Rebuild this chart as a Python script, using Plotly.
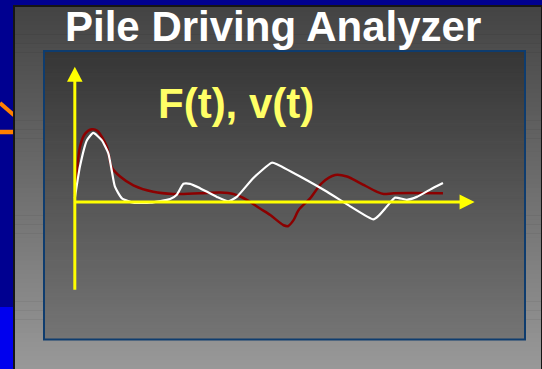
import plotly.graph_objects as go

# ---- data (time in ms, normalised amplitude) ----
force_t = [0.0, 0.05, 0.14, 0.28, 0.46, 0.61, 0.87, 1.00, 1.23, 1.59, 2.13, 2.68, 3.40, 3.95,
           4.31, 4.67, 5.03, 5.31, 5.67, 5.80, 5.94, 6.08, 6.39, 6.71, 7.07, 7.39, 7.75, 8.21,
           8.39, 8.66, 10.0]
force_v = [0.11, 0.39, 0.76, 0.94, 1.00, 0.98, 0.76, 0.48, 0.35, 0.23, 0.14, 0.11, 0.12, 0.13,
           0.11, 0.03, -0.09, -0.18, -0.32, -0.33, -0.25, -0.11, 0.05, 0.26, 0.37, 0.35, 0.26,
           0.14, 0.11, 0.12, 0.12]
vel_t = [0.0, 0.14, 0.33, 0.50, 0.73, 0.91, 1.00, 1.09, 1.28, 1.59, 2.05, 2.59, 2.77, 2.95,
         3.13, 3.40, 3.86, 4.17, 4.40, 4.85, 5.35, 5.49, 6.12, 6.85, 7.48, 8.11, 8.25, 8.48,
         8.70, 9.02, 9.29, 9.65, 10.0]
vel_v = [0.05, 0.49, 0.85, 0.95, 0.85, 0.67, 0.44, 0.21, 0.05, -0.01, -0.01, 0.04, 0.10, 0.25,
         0.25, 0.19, 0.07, 0.01, 0.07, 0.33, 0.54, 0.52, 0.35, 0.14, -0.06, -0.24, -0.19, -0.06,
         0.06, 0.03, 0.07, 0.17, 0.26]
title_text = "Pile Driving Analyzer"
label_text = "F(t), v(t)"

W, H = 542, 369
FONT = "Arial, Liberation Sans, sans-serif"


def px(x):
    return x / W


def py(y):
    return 1 - y / H


shapes = []


def rect(x0, y0, x1, y1, fill, line=None, lw=0, layer="below"):
    shapes.append(dict(type="rect", xref="paper", yref="paper", x0=px(x0), x1=px(x1),
                       y0=py(y1), y1=py(y0), fillcolor=fill, layer=layer,
                       line=dict(width=lw, color=line or "rgba(0,0,0,0)")))


def gradient(x0, y0, x1, y1, c0, c1, n=80):
    h = (y1 - y0) / n
    for i in range(n):
        f = i / (n - 1)
        c = round(c0 + (c1 - c0) * f)
        rect(x0, y0 + i * h, x1, y0 + (i + 1) * h + 0.6, f"rgb({c},{c},{c})")


# slide background
rect(0, 307, 14, 369, "#0000ee")
shapes.append(dict(type="line", xref="paper", yref="paper", x0=px(0), y0=py(103),
                   x1=px(15), y1=py(116), line=dict(color="#ff8000", width=4), layer="below"))
shapes.append(dict(type="line", xref="paper", yref="paper", x0=px(0), y0=py(132),
                   x1=px(15), y1=py(132), line=dict(color="#ff8000", width=4.5), layer="below"))
rect(13, 5, 542, 369, "#151515")
gradient(15, 7, 541, 369, 68, 152)
# inner box
gradient(44, 51, 525, 339.5, 54, 116)
rect(44, 51, 525, 339.5, "rgba(0,0,0,0)", line="#0e3c6e", lw=2)

# axis geometry in data units
X0, X1 = -0.837, 12.228
Y0, Y1 = -1.889, 2.077
yl = "#ffff00"
shapes.append(dict(type="line", xref="x", yref="y", x0=0, y0=-1.206, x1=0, y1=1.70,
                   line=dict(color=yl, width=3), layer="above"))
shapes.append(dict(type="line", xref="x", yref="y", x0=0, y0=0, x1=10.5, y1=0,
                   line=dict(color=yl, width=3), layer="above"))
shapes.append(dict(type="path", xref="x", yref="y",
                   path="M -0.212,1.655 L 0.212,1.655 L 0,1.861 Z",
                   fillcolor=yl, line=dict(color=yl, width=0), layer="above"))
shapes.append(dict(type="path", xref="x", yref="y",
                   path="M 10.45,-0.103 L 10.45,0.103 L 10.86,0 Z",
                   fillcolor=yl, line=dict(color=yl, width=0), layer="above"))

fig = go.Figure()
fig.add_trace(go.Scatter(x=force_t, y=force_v, mode="lines",
                         line=dict(color="#8b0000", width=2.5, shape="spline", smoothing=0.8),
                         hoverinfo="skip", showlegend=False))
fig.add_trace(go.Scatter(x=vel_t, y=vel_v, mode="lines",
                         line=dict(color="#ffffff", width=2.2, shape="spline", smoothing=0.5),
                         hoverinfo="skip", showlegend=False))

fig.update_layout(
    width=W, height=H, margin=dict(l=0, r=0, t=0, b=0),
    paper_bgcolor="#000090", plot_bgcolor="rgba(0,0,0,0)",
    xaxis=dict(domain=[px(44), px(525)], range=[X0, X1], visible=False, fixedrange=True),
    yaxis=dict(domain=[py(339.3), py(51)], range=[Y0, Y1], visible=False, fixedrange=True),
    shapes=shapes,
    annotations=[
        dict(text=f"<b>{title_text}</b>", xref="paper", yref="paper", x=px(273.3), y=py(27),
             xanchor="center", yanchor="middle", showarrow=False,
             font=dict(family=FONT, size=42, color="#ffffff")),
        dict(text=f"<b>{label_text}</b>", xref="paper", yref="paper", x=px(155.5), y=py(103),
             xanchor="left", yanchor="middle", showarrow=False,
             font=dict(family=FONT, size=42, color="#ffff66")),
    ],
)

fig.write_html("out.html", config={"displayModeBar": False},
               post_script="document.body.style.margin='0';document.body.style.overflow='hidden';")
